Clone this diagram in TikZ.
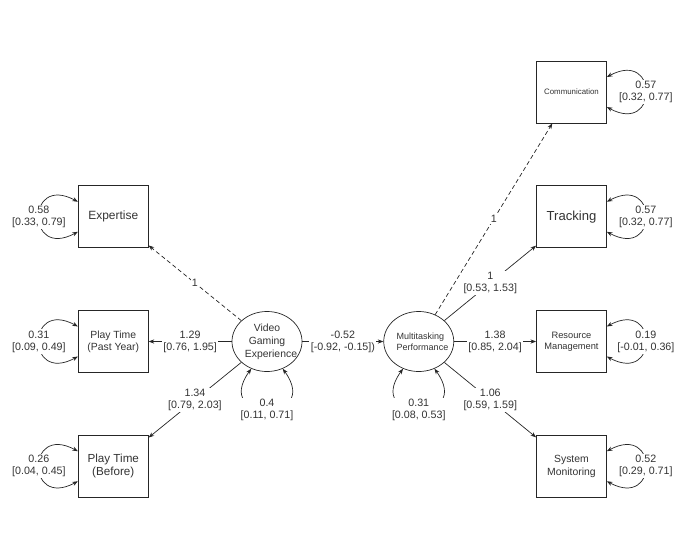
\documentclass[tikz,border=0pt]{standalone}
\usepackage{fontspec}
\setmainfont{Liberation Sans}
\usetikzlibrary{positioning,shapes.geometric,arrows.meta}

\begin{document}
\begin{tikzpicture}[x=0.025cm, y=-0.025cm, node distance=1.55cm,
  every node/.style={text=black!80},
  obs/.style={draw=black!85, line width=0.5pt, minimum width=1.75cm, minimum height=1.55cm, align=center, inner sep=1pt},
  lat/.style={draw=black!85, line width=0.5pt, ellipse, minimum width=1.75cm, minimum height=1.5cm, text width=1.1cm, align=center, inner sep=0pt},
  lbl/.style={fill=white, align=center, inner sep=1pt, font=\fontsize{7.6}{8.5}\selectfont},
  load/.style={draw=black!85, line width=0.5pt, -{Stealth[length=4pt,width=3pt]}},
  fixedload/.style={load, dash pattern=on 3pt off 2pt},
  var/.style={draw=black!85, line width=0.5pt, {Stealth[length=4pt,width=3pt]}-{Stealth[length=4pt,width=3pt]}}]
  \useasboundingbox (0,0) rectangle (685,559);

  % latent variables
  \node[lat, font=\fontsize{7.4}{9.2}\selectfont] (vge) at (267,341.5) {Video\\Gaming\\Experience};
  \node[lat, right=2.025cm of vge, font=\fontsize{6.4}{7.6}\selectfont] (mp) {Multitasking\\Performance};

  % indicators, left
  \node[obs, left=2.075cm of vge, font=\fontsize{7.4}{8.8}\selectfont] (past) {Play Time\\(Past Year)};
  \node[obs, above=of past, font=\fontsize{8.5}{10}\selectfont] (exp) {Expertise};
  \node[obs, below=of past, font=\fontsize{8.3}{9.5}\selectfont] (before) {Play Time\\(Before)};

  % indicators, right
  \node[obs, right=2.05cm of mp, font=\fontsize{6.6}{7.8}\selectfont] (res) {Resource\\Management};
  \node[obs, above=of res, font=\fontsize{9.3}{11}\selectfont] (trk) {Tracking};
  \node[obs, above=of trk, font=\fontsize{5.6}{7}\selectfont] (comm) {Communication};
  \node[obs, below=of res, font=\fontsize{7.4}{9.5}\selectfont] (sys) {System\\Monitoring};

  % loadings
  \draw[fixedload] (vge) -- node[lbl]{1} (exp);
  \draw[load] (vge) -- node[lbl]{1.29\\{}[0.76, 1.95]} (past);
  \draw[load] (vge) -- node[lbl]{1.34\\{}[0.79, 2.03]} (before);
  \draw[load] (vge) -- node[lbl]{-0.52\\{}[-0.92, -0.15])} (mp);
  \draw[fixedload] (mp) -- node[lbl]{1} (comm);
  \draw[load] (mp) -- node[lbl]{1\\{}[0.53, 1.53]} (trk);
  \draw[load] (mp) -- node[lbl]{1.38\\{}[0.85, 2.04]} (res);
  \draw[load] (mp) -- node[lbl]{1.06\\{}[0.59, 1.59]} (sys);

  % variances
  \draw[var] (exp.157) .. controls +(-52,-28) and +(-52,28) .. node[lbl]{0.58\\{}[0.33, 0.79]} (exp.203);
  \draw[var] (past.157) .. controls +(-52,-28) and +(-52,28) .. node[lbl]{0.31\\{}[0.09, 0.49]} (past.203);
  \draw[var] (before.157) .. controls +(-52,-28) and +(-52,28) .. node[lbl]{0.26\\{}[0.04, 0.45]} (before.203);
  \draw[var] (comm.23) .. controls +(52,-28) and +(52,28) .. node[lbl]{0.57\\{}[0.32, 0.77]} (comm.-23);
  \draw[var] (trk.23) .. controls +(52,-28) and +(52,28) .. node[lbl]{0.57\\{}[0.32, 0.77]} (trk.-23);
  \draw[var] (res.23) .. controls +(52,-28) and +(52,28) .. node[lbl]{0.19\\{}[-0.01, 0.36]} (res.-23);
  \draw[var] (sys.23) .. controls +(52,-28) and +(52,28) .. node[lbl]{0.52\\{}[0.29, 0.71]} (sys.-23);
  \draw[var] (vge.-120) .. controls +(-40,55) and +(40,55) .. node[lbl]{0.4\\{}[0.11, 0.71]} (vge.-60);
  \draw[var] (mp.-120) .. controls +(-40,55) and +(40,55) .. node[lbl]{0.31\\{}[0.08, 0.53]} (mp.-60);
\end{tikzpicture}
\end{document}
